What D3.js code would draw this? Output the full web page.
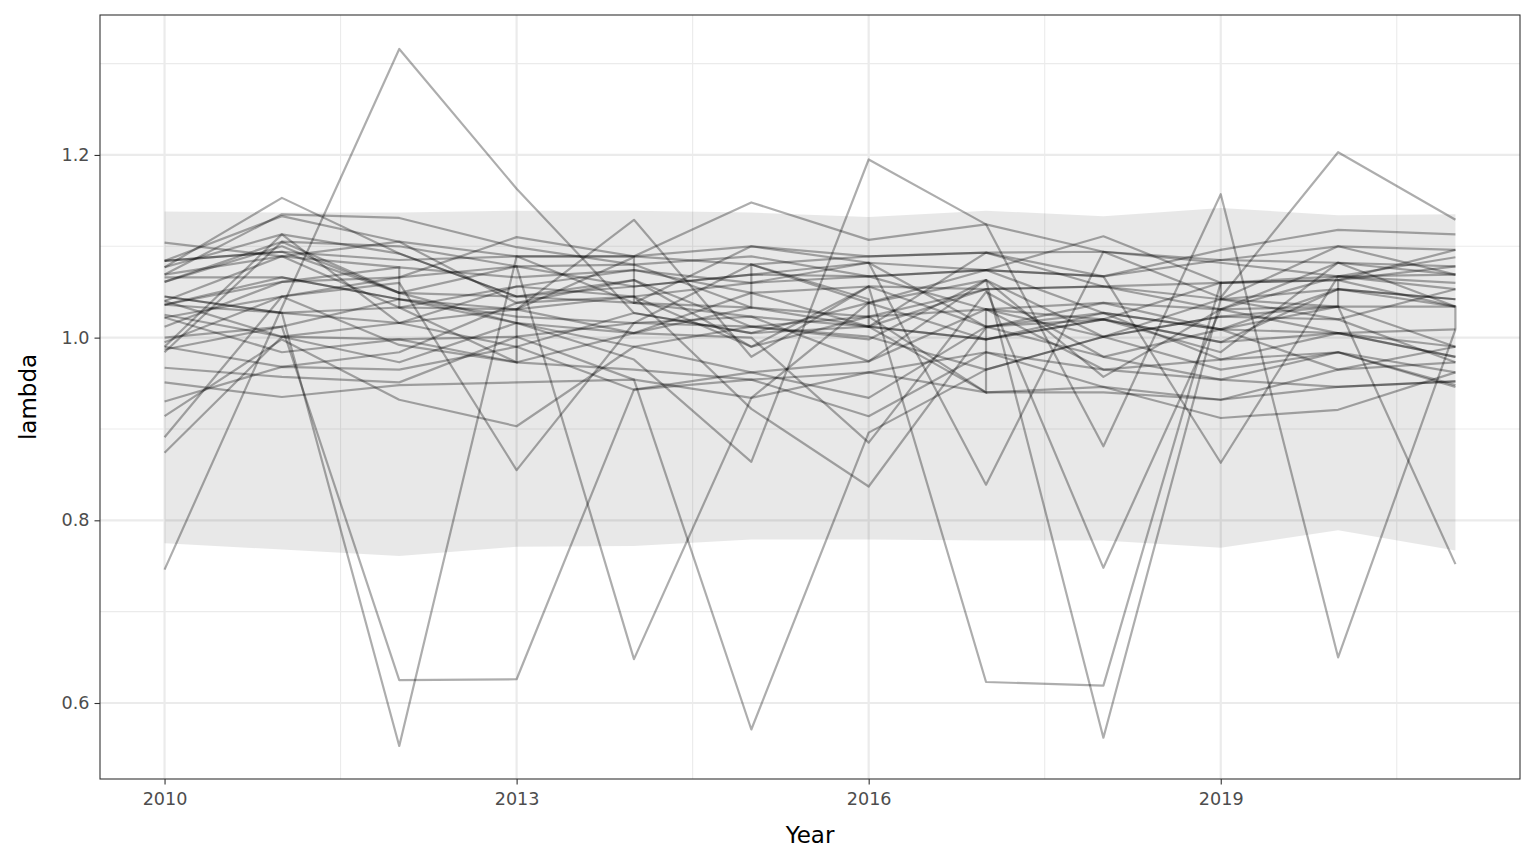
<!DOCTYPE html>
<html>
<head>
<meta charset="utf-8">
<script src="https://cdn.jsdelivr.net/npm/d3@7"></script>
<style>
  body { margin: 0; background: #fff; }
  text { font-family: "DejaVu Sans", sans-serif; }
</style>
</head>
<body>
<div class="vis-holder"></div>
<script>
// years on the x axis
var years = [2010, 2011, 2012, 2013, 2014, 2015, 2016, 2017, 2018, 2019, 2020, 2021];

// one row per simulated series, lambda by year
var lambdaRows = [
  [0.746, 1.033, 1.316, 1.163, 1.027, 1.005, 1.012, 0.998, 1.020, 0.995, 1.005, 0.979],
  [1.045, 1.027, 0.553, 1.089, 1.038, 1.023, 0.974, 1.063, 0.957, 1.031, 1.034, 0.990],
  [0.987, 1.012, 0.625, 0.626, 0.943, 0.954, 0.914, 0.984, 0.965, 0.976, 0.984, 0.962],
  [1.022, 1.045, 1.066, 1.078, 0.648, 0.934, 1.038, 1.074, 1.027, 1.009, 1.053, 1.042],
  [0.967, 0.957, 0.951, 1.001, 0.954, 0.571, 0.896, 0.965, 1.001, 1.023, 1.020, 0.973],
  [1.061, 1.100, 1.049, 1.016, 0.976, 0.864, 1.195, 1.124, 0.881, 1.157, 0.650, 1.009],
  [1.036, 1.066, 1.042, 1.031, 1.005, 1.049, 1.056, 0.623, 0.619, 1.060, 1.067, 1.053],
  [0.990, 0.968, 0.984, 1.038, 1.063, 1.012, 0.998, 1.063, 0.562, 1.042, 1.100, 1.096],
  [1.025, 1.001, 1.016, 1.056, 1.045, 0.990, 1.023, 1.053, 0.748, 1.031, 1.005, 0.990],
  [1.077, 1.113, 1.092, 1.045, 1.056, 1.069, 1.082, 1.074, 1.067, 0.863, 1.067, 1.060],
  [1.069, 1.135, 1.131, 1.099, 1.080, 1.033, 1.012, 1.093, 1.094, 1.044, 1.203, 1.129],
  [1.012, 1.061, 1.077, 1.066, 1.074, 1.060, 1.067, 1.031, 1.038, 1.009, 1.034, 0.752],
  [0.995, 1.045, 1.060, 0.855, 1.016, 1.080, 1.038, 0.998, 1.020, 0.984, 1.082, 1.034],
  [0.914, 0.998, 0.932, 0.903, 0.990, 0.962, 0.934, 1.012, 0.979, 0.954, 0.946, 0.952],
  [0.951, 0.935, 0.948, 0.951, 0.954, 0.934, 0.962, 0.984, 0.946, 0.932, 0.965, 0.973],
  [1.104, 1.089, 1.105, 1.038, 1.045, 0.922, 0.837, 1.011, 1.038, 1.031, 1.082, 1.078],
  [1.084, 1.094, 1.085, 1.089, 1.089, 1.100, 1.082, 0.839, 1.094, 1.085, 1.082, 1.069],
  [1.077, 1.153, 1.092, 1.045, 1.038, 1.100, 1.089, 1.093, 1.056, 1.060, 1.063, 1.078],
  [1.045, 1.027, 1.033, 1.031, 1.129, 0.979, 1.056, 1.053, 1.056, 1.042, 1.053, 1.042],
  [1.084, 1.133, 1.105, 1.089, 1.089, 1.148, 1.107, 1.124, 1.094, 1.082, 1.067, 1.069],
  [1.061, 1.105, 1.100, 1.078, 1.080, 1.089, 1.067, 1.074, 1.111, 1.060, 1.063, 1.096],
  [1.036, 1.061, 1.066, 1.110, 1.089, 1.080, 1.089, 1.093, 1.067, 1.096, 1.118, 1.113],
  [1.000, 1.012, 1.042, 1.016, 1.005, 1.033, 1.023, 1.031, 1.001, 1.023, 1.034, 1.034],
  [1.040, 1.001, 0.998, 1.001, 1.016, 1.023, 1.012, 0.998, 1.027, 1.009, 1.005, 1.009],
  [0.984, 1.105, 1.049, 1.045, 1.063, 0.990, 1.056, 1.012, 1.020, 0.995, 1.053, 1.034],
  [1.036, 1.027, 1.016, 0.990, 1.027, 1.005, 1.038, 1.063, 1.001, 1.042, 1.020, 1.053],
  [1.022, 0.984, 0.998, 0.973, 1.005, 1.000, 0.885, 1.050, 0.979, 1.009, 0.965, 0.990],
  [0.930, 0.968, 0.965, 0.990, 0.943, 0.962, 0.974, 1.031, 0.965, 0.954, 0.984, 0.946],
  [0.891, 1.045, 0.992, 0.973, 0.965, 0.954, 0.962, 0.940, 0.946, 0.912, 0.921, 0.962],
  [0.874, 1.001, 0.973, 1.016, 0.990, 1.012, 1.023, 0.940, 0.940, 0.932, 0.946, 0.952],
  [1.069, 1.089, 1.033, 1.056, 1.074, 1.049, 1.012, 1.053, 1.056, 1.031, 1.067, 1.088],
  [0.990, 1.113, 1.016, 1.031, 1.045, 1.060, 1.082, 1.012, 1.027, 0.976, 1.005, 0.979],
  [1.084, 1.094, 1.049, 1.078, 1.056, 1.069, 1.067, 1.074, 1.067, 1.085, 1.100, 1.069],
  [1.066, 1.066, 1.042, 1.023, 1.016, 1.012, 1.001, 0.965, 1.001, 0.965, 0.984, 0.948]
];

// one series has two records in most years
var dupYears  = [2010, 2011, 2012, 2012, 2013, 2013, 2014, 2014, 2015, 2015, 2016, 2016, 2017, 2017, 2018, 2019, 2019, 2020, 2020, 2021, 2021];
var dupValues = [1.040, 1.089, 1.077, 1.033, 0.973, 1.031, 1.088, 1.038, 1.033, 1.080, 1.042, 1.012, 0.940, 1.031, 1.020, 1.060, 1.042, 1.034, 1.063, 1.034, 1.009];

// interval band
var ribbonHigh = [1.138, 1.137, 1.137, 1.139, 1.139, 1.137, 1.132, 1.139, 1.133, 1.142, 1.134, 1.135];
var ribbonLow  = [0.775, 0.768, 0.761, 0.771, 0.772, 0.779, 0.779, 0.778, 0.778, 0.770, 0.789, 0.767];

var xMajor = [2010, 2013, 2016, 2019];
var xMinor = [2011.5, 2014.5, 2017.5, 2020.5];
var yMajor = [0.6, 0.8, 1.0, 1.2];
var yMinor = [0.7, 0.9, 1.1, 1.3];

var width = 1536;
var height = 865;
var margin = { top: 15, bottom: 86, left: 100, right: 16 };

var svg = d3.select('div.vis-holder')
            .append('svg')
            .attr('width', width)
            .attr('height', height)
            .style('display', 'block')
            .style('background', '#fff');

var xScale = d3.scaleLinear()
               .domain([2009.45, 2021.55])
               .range([margin.left, width - margin.right]);

var yScale = d3.scaleLinear()
               .domain([0.5168, 1.3532])
               .range([height - margin.bottom, margin.top]);

var grid = svg.append('g');

grid.selectAll('line.xminor').data(xMinor).enter().append('line')
    .attr('x1', d => xScale(d)).attr('x2', d => xScale(d))
    .attr('y1', margin.top).attr('y2', height - margin.bottom)
    .attr('stroke', '#ebebeb').attr('stroke-width', 1.1);

grid.selectAll('line.yminor').data(yMinor).enter().append('line')
    .attr('y1', d => yScale(d)).attr('y2', d => yScale(d))
    .attr('x1', margin.left).attr('x2', width - margin.right)
    .attr('stroke', '#ebebeb').attr('stroke-width', 1.1);

grid.selectAll('line.xmajor').data(xMajor).enter().append('line')
    .attr('x1', d => xScale(d)).attr('x2', d => xScale(d))
    .attr('y1', margin.top).attr('y2', height - margin.bottom)
    .attr('stroke', '#ebebeb').attr('stroke-width', 2.2);

grid.selectAll('line.ymajor').data(yMajor).enter().append('line')
    .attr('y1', d => yScale(d)).attr('y2', d => yScale(d))
    .attr('x1', margin.left).attr('x2', width - margin.right)
    .attr('stroke', '#ebebeb').attr('stroke-width', 2.2);

// ribbon
var area = d3.area()
             .x((d, i) => xScale(years[i]))
             .y0((d, i) => yScale(ribbonLow[i]))
             .y1((d, i) => yScale(ribbonHigh[i]));

svg.append('path')
   .datum(years)
   .attr('d', area)
   .attr('fill', '#000')
   .attr('fill-opacity', 0.09);

// spaghetti lines
var line = d3.line()
             .x(d => xScale(d[0]))
             .y(d => yScale(d[1]));

var lines = svg.append('g');

lines.selectAll('path')
     .data(lambdaRows)
     .enter()
     .append('path')
     .attr('d', row => line(row.map((v, i) => [years[i], v])))
     .attr('fill', 'none')
     .attr('stroke', '#000')
     .attr('stroke-opacity', 0.32)
     .attr('stroke-width', 2.2)
     .attr('stroke-linejoin', 'round');

lines.append('path')
     .attr('d', line(dupYears.map((y, i) => [y, dupValues[i]])))
     .attr('fill', 'none')
     .attr('stroke', '#000')
     .attr('stroke-opacity', 0.32)
     .attr('stroke-width', 2.2);

// panel border
svg.append('rect')
   .attr('x', margin.left)
   .attr('y', margin.top)
   .attr('width', width - margin.left - margin.right)
   .attr('height', height - margin.top - margin.bottom)
   .attr('fill', 'none')
   .attr('stroke', '#333333')
   .attr('stroke-width', 1.1);

// axes
var xAxis = svg.append('g')
               .attr('transform', `translate(0, ${height - margin.bottom})`)
               .call(d3.axisBottom(xScale).tickValues(xMajor).tickFormat(d3.format('d')).tickSize(5.5).tickPadding(8));

var yAxis = svg.append('g')
               .attr('transform', `translate(${margin.left}, 0)`)
               .call(d3.axisLeft(yScale).tickValues(yMajor).tickFormat(d3.format('.1f')).tickSize(5.5).tickPadding(5));

[xAxis, yAxis].forEach(function(ax) {
  ax.select('.domain').remove();
  ax.selectAll('.tick line').attr('stroke', '#333333').attr('stroke-width', 1.1);
  ax.selectAll('.tick text')
    .attr('fill', '#4d4d4d')
    .style('font-size', '17.6px')
    .style('font-family', '"DejaVu Sans", sans-serif');
});

var xLabel = svg.append('text')
                .attr('text-anchor', 'middle')
                .attr('x', (margin.left + width - margin.right) / 2)
                .attr('y', height - 22)
                .style('font-size', '23px')
                .text('Year');

var yLabel = svg.append('text')
                .attr('text-anchor', 'middle')
                .attr('transform', 'translate(36,' + ((margin.top + height - margin.bottom) / 2) + ')rotate(-90)')
                .style('font-size', '23px')
                .text('lambda');
</script>
</body>
</html>
